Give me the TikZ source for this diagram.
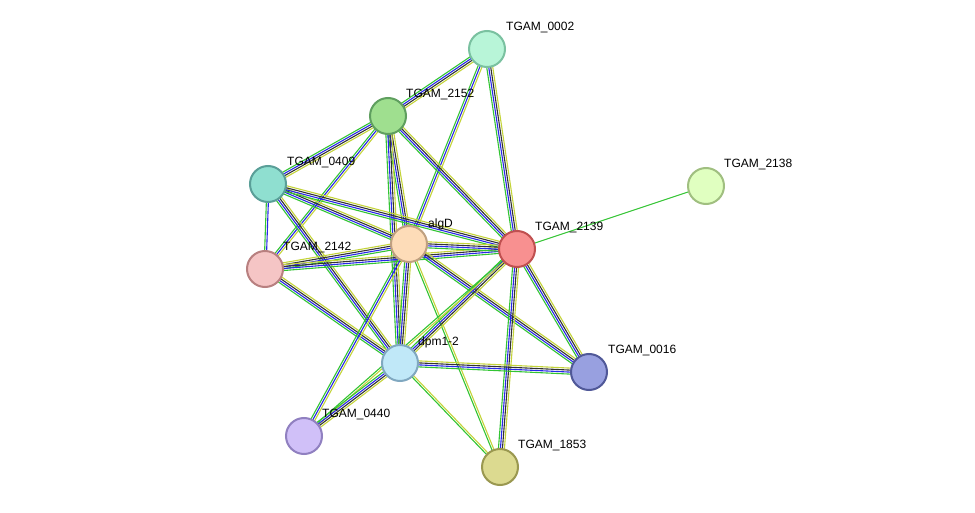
\documentclass[tikz,border=0pt]{standalone}
\usepackage{fontspec}
\setmainfont{Liberation Sans}
\usetikzlibrary{calc}
\definecolor{eg}{HTML}{33C433}
\definecolor{eb}{HTML}{2828E8}
\definecolor{ek}{HTML}{333333}
\definecolor{ey}{HTML}{C4D43A}
\definecolor{f0002}{RGB}{184,245,216}\definecolor{d0002}{RGB}{122,193,160}
\definecolor{f2152}{RGB}{159,223,143}\definecolor{d2152}{RGB}{95,159,95}
\definecolor{f0409}{RGB}{143,223,208}\definecolor{d0409}{RGB}{90,159,152}
\definecolor{f2138}{RGB}{224,255,192}\definecolor{d2138}{RGB}{160,191,128}
\definecolor{falgD}{RGB}{253,220,184}\definecolor{dalgD}{RGB}{191,160,128}
\definecolor{f2139}{RGB}{248,144,144}\definecolor{d2139}{RGB}{192,80,80}
\definecolor{f2142}{RGB}{245,197,197}\definecolor{d2142}{RGB}{184,128,128}
\definecolor{fdpm}{RGB}{192,232,248}\definecolor{ddpm}{RGB}{128,168,192}
\definecolor{f0016}{RGB}{152,160,224}\definecolor{d0016}{RGB}{80,88,152}
\definecolor{f0440}{RGB}{208,192,248}\definecolor{d0440}{RGB}{144,128,192}
\definecolor{f1853}{RGB}{220,218,144}\definecolor{d1853}{RGB}{154,152,80}
\tikzset{
 nd/.style={circle,minimum size=36pt,inner sep=0pt,line width=2pt,fill=f#1,draw=d#1},
 lb/.style={anchor=west,font=\fontsize{12}{12}\selectfont,inner sep=0pt},
 el/.style={line width=1.1pt}
}
\newcommand{\eline}[4]{\draw[el,#3] ($(#1)!#4!90:(#2)$) -- ($(#2)!#4!-90:(#1)$);}
\newcommand{\efull}[2]{\eline{#1}{#2}{eg}{-3pt}\eline{#1}{#2}{eb}{-1pt}\eline{#1}{#2}{ek}{1pt}\eline{#1}{#2}{ey}{3pt}}
\newcommand{\egby}[2]{\eline{#1}{#2}{eg}{-2pt}\eline{#1}{#2}{eb}{0pt}\eline{#1}{#2}{ey}{2pt}}
\newcommand{\egy}[2]{\eline{#1}{#2}{eg}{-1pt}\eline{#1}{#2}{ey}{1pt}}
\begin{document}
\begin{tikzpicture}[x=1pt,y=-1pt]
\useasboundingbox (0,0) rectangle (975,513);
\coordinate (c0002) at (487,49);
\coordinate (c2152) at (388,116);
\coordinate (c0409) at (268,184);
\coordinate (c2138) at (706,186);
\coordinate (calgD) at (409,244);
\coordinate (c2139) at (517,249);
\coordinate (c2142) at (265,269);
\coordinate (cdpm) at (400,363);
\coordinate (c0016) at (589,372);
\coordinate (c0440) at (304,436);
\coordinate (c1853) at (500,467);
% edges
\efull{c0002}{c2152}
\egby{c0002}{calgD}
\efull{c0002}{c2139}
\efull{c2152}{c0409}
\egby{c2152}{c2142}
\efull{c2152}{calgD}
\efull{c2152}{cdpm}
\efull{c2152}{c2139}
\eline{c0409}{c2142}{eg}{-1pt}\eline{c0409}{c2142}{eb}{1pt}
\efull{c0409}{calgD}
\efull{c0409}{c2139}
\efull{c0409}{cdpm}
\efull{c2142}{calgD}
\efull{c2142}{c2139}
\efull{c2142}{cdpm}
\efull{calgD}{c2139}
\efull{calgD}{cdpm}
\efull{calgD}{c0016}
\egby{calgD}{c0440}
\egy{calgD}{c1853}
\efull{c2139}{cdpm}
\efull{c2139}{c0016}
\efull{c2139}{c1853}
\egy{c2139}{c0440}
\eline{c2139}{c2138}{eg}{0pt}
\efull{cdpm}{c0016}
\efull{cdpm}{c0440}
\egy{cdpm}{c1853}
% nodes
\node[nd=0002] (n0002) at (c0002) {};
\node[nd=2152] (n2152) at (c2152) {};
\node[nd=0409] (n0409) at (c0409) {};
\node[nd=2138] (n2138) at (c2138) {};
\node[nd=algD] (nalgD) at (calgD) {};
\node[nd=2139] (n2139) at (c2139) {};
\node[nd=2142] (n2142) at (c2142) {};
\node[nd=dpm] (ndpm) at (cdpm) {};
\node[nd=0016] (n0016) at (c0016) {};
\node[nd=0440] (n0440) at (c0440) {};
\node[nd=1853] (n1853) at (c1853) {};
% labels
\node[lb] (l0002) at ($(c0002)+(19,-21)$) {TGAM\_0002};
\node[lb] (l2152) at ($(c2152)+(18,-21)$) {TGAM\_2152};
\node[lb] (l0409) at ($(c0409)+(19,-21)$) {TGAM\_0409};
\node[lb] (l2138) at ($(c2138)+(18,-21)$) {TGAM\_2138};
\node[lb] (lalgD) at ($(calgD)+(19,-20)$) {algD};
\node[lb] (l2139) at ($(c2139)+(18,-21)$) {TGAM\_2139};
\node[lb] (l2142) at ($(c2142)+(18,-21)$) {TGAM\_2142};
\node[lb] (ldpm) at ($(cdpm)+(18,-21)$) {dpm1-2};
\node[lb] (l0016) at ($(c0016)+(19,-21)$) {TGAM\_0016};
\node[lb] (l0440) at ($(c0440)+(18,-21)$) {TGAM\_0440};
\node[lb] (l1853) at ($(c1853)+(18,-21)$) {TGAM\_1853};
\end{tikzpicture}
\end{document}
